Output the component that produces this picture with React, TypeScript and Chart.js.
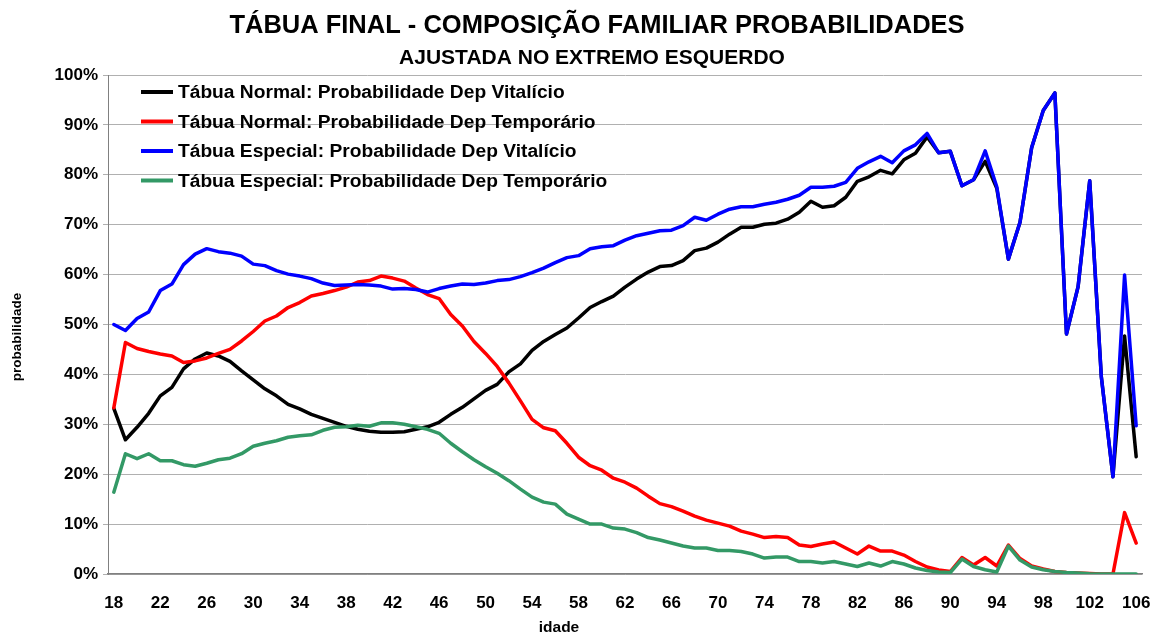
import React, { useEffect, useRef } from 'react';
import { Chart, registerables } from 'chart.js';

Chart.register(...registerables);

const ages = [
  '18','19','20','21','22','23','24','25','26','27','28','29','30','31','32','33','34','35','36','37',
  '38','39','40','41','42','43','44','45','46','47','48','49','50','51','52','53','54','55','56','57',
  '58','59','60','61','62','63','64','65','66','67','68','69','70','71','72','73','74','75','76','77',
  '78','79','80','81','82','83','84','85','86','87','88','89','90','91','92','93','94','95','96','97',
  '98','99','100','101','102','103','104','105','106'
];

const xTickLabels = ['18','22','26','30','34','38','42','46','50','54','58','62','66','70','74','78','82','86','90','94','98','102','106'];

const normalVitalicio = [
  33.2, 26.9, 29.4, 32.2, 35.7, 37.4, 41.1, 43.1, 44.3, 43.7, 42.6, 40.7, 38.9, 37.1, 35.7, 34.0, 33.1, 32.0, 31.2, 30.4,
  29.6, 29.0, 28.6, 28.4, 28.4, 28.5, 29.0, 29.5, 30.4, 32.0, 33.4, 35.1, 36.8, 38.0, 40.5, 42.1, 44.8, 46.6, 48.0, 49.3,
  51.3, 53.4, 54.6, 55.7, 57.5, 59.1, 60.5, 61.6, 61.8, 62.8, 64.8, 65.3, 66.5, 68.1, 69.5, 69.5, 70.1, 70.3, 71.1, 72.5,
  74.7, 73.5, 73.8, 75.5, 78.7, 79.6, 80.9, 80.2, 83.0, 84.3, 87.6, 84.4, 84.7, 77.8, 79.0, 82.7, 77.3, 63.1, 70.5, 85.4,
  92.9, 96.4, 48.1, 57.6, 78.8, 39.5, 19.5, 47.7, 23.5
];

const normalTemporario = [
  33.3, 46.4, 45.2, 44.6, 44.1, 43.7, 42.4, 42.7, 43.3, 44.2, 45.0, 46.7, 48.6, 50.7, 51.7, 53.4, 54.4, 55.7, 56.2, 56.8,
  57.5, 58.5, 58.8, 59.7, 59.3, 58.7, 57.3, 56.0, 55.2, 52.0, 49.7, 46.6, 44.2, 41.6, 38.3, 34.7, 31.0, 29.3, 28.7, 26.2,
  23.4, 21.7, 20.8, 19.2, 18.4, 17.2, 15.6, 14.1, 13.5, 12.6, 11.6, 10.8, 10.2, 9.6, 8.6, 8.0, 7.3, 7.5, 7.3, 5.8,
  5.5, 6.0, 6.4, 5.2, 4.0, 5.6, 4.6, 4.6, 3.8, 2.5, 1.4, 0.8, 0.5, 3.3, 1.8, 3.3, 1.6, 5.8, 3.1, 1.6,
  1.0, 0.5, 0.3, 0.2, 0.1, 0.0, 0.0, 12.3, 6.2
];

const especialVitalicio = [
  50.0, 48.8, 51.2, 52.5, 56.8, 58.1, 62.0, 64.1, 65.2, 64.6, 64.3, 63.7, 62.1, 61.8, 60.8, 60.1, 59.7, 59.2, 58.3, 57.8,
  57.9, 58.0, 57.9, 57.7, 57.1, 57.2, 57.0, 56.5, 57.2, 57.7, 58.1, 58.0, 58.3, 58.8, 59.0, 59.6, 60.4, 61.3, 62.4, 63.4,
  63.8, 65.2, 65.6, 65.8, 66.9, 67.8, 68.3, 68.8, 68.9, 69.8, 71.5, 70.9, 72.1, 73.1, 73.6, 73.6, 74.1, 74.5, 75.1, 75.9,
  77.5, 77.5, 77.7, 78.5, 81.3, 82.6, 83.7, 82.4, 84.8, 86.0, 88.3, 84.4, 84.7, 77.8, 79.0, 84.8, 77.6, 63.1, 70.5, 85.4,
  92.9, 96.4, 48.1, 57.6, 78.8, 39.5, 19.5, 59.9, 29.7
];

const especialTemporario = [
  16.4, 24.1, 23.1, 24.1, 22.7, 22.7, 21.9, 21.6, 22.2, 22.9, 23.2, 24.1, 25.6, 26.2, 26.7, 27.4, 27.7, 27.9, 28.8, 29.4,
  29.5, 29.8, 29.6, 30.3, 30.3, 30.0, 29.5, 29.0, 28.2, 26.2, 24.5, 22.9, 21.5, 20.2, 18.7, 17.0, 15.4, 14.4, 14.0, 12.0,
  11.0, 10.0, 10.0, 9.2, 9.0, 8.3, 7.3, 6.8, 6.2, 5.6, 5.2, 5.2, 4.7, 4.7, 4.5, 4.0, 3.2, 3.4, 3.4, 2.5,
  2.5, 2.2, 2.5, 2.0, 1.5, 2.2, 1.6, 2.5, 2.0, 1.2, 0.7, 0.4, 0.3, 3.0, 1.5, 0.85, 0.4, 5.6, 2.8, 1.4,
  0.85, 0.5, 0.3, 0.2, 0.05, 0.0, 0.0, 0.0, 0.0
];

const seriesNames = [
  'Tábua Normal: Probabilidade Dep Vitalício',
  'Tábua Normal: Probabilidade Dep Temporário',
  'Tábua Especial: Probabilidade Dep Vitalício',
  'Tábua Especial: Probabilidade Dep Temporário',
];
const seriesColors = ['#000000', '#ff0000', '#0000ff', '#339966'];

const TITLE = 'TÁBUA FINAL - COMPOSIÇÃO FAMILIAR PROBABILIDADES';
const SUBTITLE = 'AJUSTADA NO EXTREMO ESQUERDO';
const Y_TITLE = 'probabilidade';
const X_TITLE = 'idade';

const FONT = '"Liberation Sans", Arial, sans-serif';

const decorPlugin = {
  id: 'decor',
  afterDraw(chart: any) {
    const ctx = chart.ctx;
    ctx.save();
    ctx.fillStyle = '#000';
    ctx.textAlign = 'center';
    ctx.textBaseline = 'middle';
    ctx.font = `bold 25.5px ${FONT}`;
    ctx.fillText(TITLE, 597, 26);
    ctx.font = `bold 21px ${FONT}`;
    ctx.fillText(SUBTITLE, 592, 58);
    ctx.font = `bold 15.5px ${FONT}`;
    ctx.fillText(X_TITLE, 559, 628);
    ctx.save();
    ctx.translate(17, 337);
    ctx.rotate(-Math.PI / 2);
    ctx.font = `bold 13.5px ${FONT}`;
    ctx.fillText(Y_TITLE, 0, 0);
    ctx.restore();

    // legend inside plot area
    const rows = [92, 121.5, 151, 180.5];
    ctx.font = `bold 19.2px ${FONT}`;
    ctx.textAlign = 'left';
    for (let i = 0; i < seriesNames.length; i++) {
      ctx.strokeStyle = seriesColors[i];
      ctx.lineWidth = 4;
      ctx.lineCap = 'butt';
      ctx.beginPath();
      ctx.moveTo(141, rows[i]);
      ctx.lineTo(173, rows[i]);
      ctx.stroke();
      ctx.fillStyle = '#000';
      ctx.fillText(seriesNames[i], 178, rows[i] + 1);
    }
    ctx.restore();
  },
};

export default function App() {
  const ref = useRef<HTMLCanvasElement | null>(null);

  useEffect(() => {
    document.body.style.margin = '0';
    const canvas = ref.current;
    if (!canvas) return;
    const seriesData = [normalVitalicio, normalTemporario, especialVitalicio, especialTemporario];
    const orders = [4, 3, 2, 1];
    const chart = new Chart(canvas, {
      type: 'line',
      data: {
        labels: ages,
        datasets: seriesData.map((d, i) => ({
          label: seriesNames[i],
          data: d,
          borderColor: seriesColors[i],
          backgroundColor: seriesColors[i],
          borderWidth: 3.5,
          pointRadius: 0,
          tension: 0,
          fill: false,
          borderJoinStyle: 'round' as const,
          borderCapStyle: 'round' as const,
          order: orders[i],
        })),
      },
      options: {
        responsive: false,
        animation: false,
        events: [],
        layout: { padding: { left: 0, right: 10, top: 75, bottom: 0 } },
        plugins: {
          legend: { display: false },
          title: { display: false },
          tooltip: { enabled: false },
        },
        scales: {
          x: {
            type: 'category',
            offset: true,
            grid: { display: false },
            border: { display: true, color: '#808080', width: 1.5 },
            ticks: {
              autoSkip: false,
              maxRotation: 0,
              minRotation: 0,
              padding: 11,
              color: '#000',
              font: { family: FONT, size: 17, weight: 'bold' },
              callback: function (this: any, value: any) {
                const lab = ages[value as number];
                return xTickLabels.includes(lab) ? lab : '';
              },
            },
            afterFit: (scale: any) => {
              scale.height = 63;
              scale.paddingLeft = 0;
              scale.paddingRight = 0;
            },
          },
          y: {
            min: 0,
            max: 100,
            grid: { color: '#b0b0b0', lineWidth: 1, tickLength: 5, drawTicks: true },
            border: { display: true, color: '#808080', width: 1 },
            ticks: {
              stepSize: 10,
              padding: 5,
              color: '#000',
              font: { family: FONT, size: 17, weight: 'bold' },
              callback: (v: any) => `${v}%`,
            },
            afterFit: (scale: any) => {
              scale.width = 108;
              scale.paddingTop = 0;
              scale.paddingBottom = 0;
            },
          },
        },
      },
      plugins: [decorPlugin],
    });
    return () => chart.destroy();
  }, []);

  return (
    <div style={{ width: 1152, height: 637, position: 'relative' }}>
      <canvas ref={ref} width={1152} height={637} style={{ display: 'block', width: 1152, height: 637 }} />
    </div>
  );
}
